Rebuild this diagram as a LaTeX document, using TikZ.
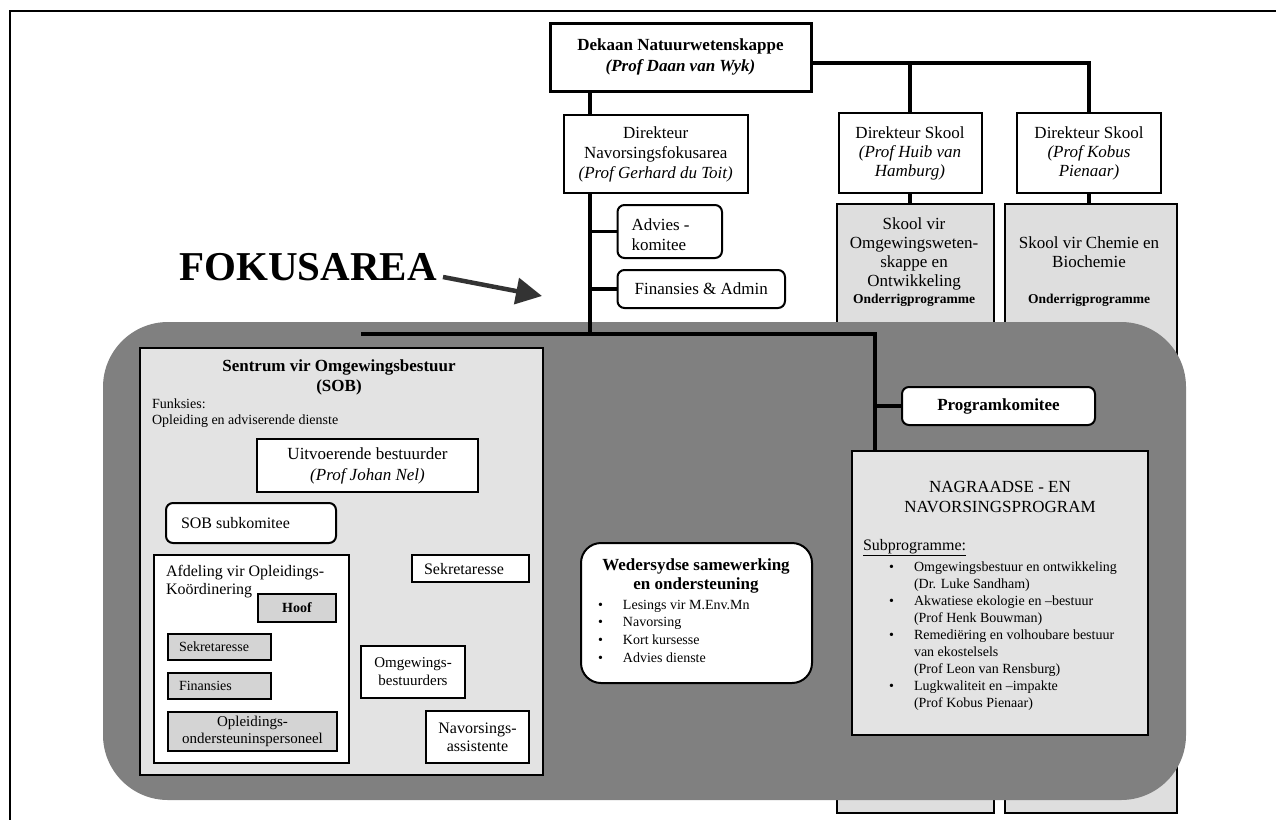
\documentclass[tikz,border=0pt]{standalone}
\usepackage{fontspec}
\setmainfont{Liberation Serif}
\usetikzlibrary{arrows.meta}
\newcommand{\fz}[2]{\fontsize{#1}{#2}\selectfont}
\newcommand{\bul}{\makebox[25pt][l]{•}}
\newcommand{\nob}{\hspace*{25pt}}
\definecolor{regiongray}{gray}{0.5}
\definecolor{lightdot}{gray}{0.89}
\definecolor{skoolgray}{gray}{0.87}
\definecolor{subgray}{gray}{0.83}
\begin{document}
\begin{tikzpicture}[x=1pt,y=-1pt,
  every node/.style={inner sep=0pt, outer sep=0pt},
  bx/.style={draw=black, line width=2pt, fill=white, align=center},
  rbx/.style={bx, rounded corners=7pt},
  sub/.style={draw=black, line width=1.5pt, fill=subgray},
  conn/.style={draw=black, line width=3.5pt},
  txt/.style={align=center, font=\fz{17}{20}},
]
\useasboundingbox (0,0) rectangle (1276,820);

% outer frame
\coordinate (ftl) at (10,11);
\coordinate (ftr) at (1276,11);
\coordinate (fbl) at (10,820);
\draw[line width=2pt] (ftr) -- (ftl) -- (fbl);

% school columns (behind the focus area)
\node[bx, fill=skoolgray, minimum width=157pt, minimum height=609pt] (sk1) at (915.5,508.5) {};
\node[bx, fill=skoolgray, minimum width=172pt, minimum height=609pt] (sk2) at (1090.5,508.5) {};
\node[txt, font=\fz{17}{19}] (sk1t) at (914,254) {Skool vir\\Omgewingsweten-\\skappe en\\Ontwikkeling};
\node[font=\bfseries\fz{13.5}{16}] (sk1o) at (914,300) {Onderrigprogramme};
\node[txt, font=\fz{17}{19}] (sk2t) at (1089,252.5) {Skool vir Chemie en\\Biochemie};
\node[font=\bfseries\fz{13.5}{16}] (sk2o) at (1089,300) {Onderrigprogramme};

% focus area background
\node[fill=regiongray, rounded corners=65pt, minimum width=1083pt, minimum height=478pt] (region) at (644.5,561) {};

% top boxes
\node[bx, line width=3pt, minimum width=261pt, minimum height=68pt, font=\bfseries\fz{17}{21}] (dek) at (680.5,57)
  {Dekaan Natuurwetenskappe\\\textit{(Prof Daan van Wyk)}};
\node[bx, minimum width=183.5pt, minimum height=78pt, font=\fz{17}{20}] (nfa) at (655.75,154)
  {Direkteur\\Navorsingsfokusarea\\\textit{(Prof Gerhard du Toit)}};
\node[bx, minimum width=143pt, minimum height=80pt, font=\fz{17}{19}] (ds1) at (910,153)
  {Direkteur Skool\\\textit{(Prof Huib van}\\\textit{Hamburg)}};
\node[bx, minimum width=144pt, minimum height=80pt, font=\fz{17}{19}] (ds2) at (1089,153)
  {Direkteur Skool\\\textit{(Prof Kobus}\\\textit{Pienaar)}};
\node[rbx, minimum width=104.5pt, minimum height=53pt] (adv) at (669.75,231.5) {};
\node[anchor=west, align=left, font=\fz{17}{20}] (advt) at (631.5,235) {Advies -\\komitee};
\node[rbx, minimum width=167.5pt, minimum height=38pt, font=\fz{17}{20}] (fin) at (701.25,289) {Finansies \& Admin};

% FOKUSAREA label and arrow
\node[font=\bfseries\fz{41}{41}] (fok) at (308,267) {FOKUSAREA};
\coordinate (arA) at (443,277);
\coordinate (arB) at (542,296);
\draw[line width=4.5pt, black!80, -{Triangle[length=26pt,width=26pt]}] (arA) -- (arB);

% connectors
\coordinate (spine) at (590,0);
\coordinate (hy) at ([yshift=-6pt]dek.east);
\coordinate (hl) at (361,334);
\coordinate (hr) at (875,334);
\draw[conn] (dek.south -| spine) -- (nfa.north -| spine);
\draw[conn] (hy) -| (ds2.north);
\draw[conn] (hy -| ds1.north) -- (ds1.north);
\draw[conn] (ds1.south) -- (ds1.south |- sk1.north);
\draw[conn] (ds2.south) -- (ds2.south |- sk2.north);
\draw[conn] (nfa.south -| spine) -- (spine |- hl);
\draw[conn] (spine |- adv.west) -- (adv.west);
\draw[conn] (spine |- fin.west) -- (fin.west);
\draw[conn] (hl) -- (hr) -- (hr |- 0,451);
\draw[conn] (hr |- 0,406) -- (902,406);

% Sentrum vir Omgewingsbestuur
\node[bx, fill=lightdot, minimum width=403pt, minimum height=427pt] (sob) at (341.5,561.5) {};
\node[txt, font=\bfseries\fz{17}{20}] (sobt) at (339,377) {Sentrum vir Omgewingsbestuur\\(SOB)};
\node[anchor=west, align=left, font=\fz{14}{15.5}] (funk) at (152,413) {Funksies:\\Opleiding en adviserende dienste};
\node[bx, minimum width=221pt, minimum height=53pt, font=\fz{17}{21}] (uit) at (367.5,465.5)
  {Uitvoerende bestuurder\\\textit{(Prof Johan Nel)}};
\node[rbx, minimum width=170pt, minimum height=40pt] (sobk) at (251,523) {};
\node[anchor=west, font=\fz{16}{18}] (sobkt) at (181,523) {SOB subkomitee};
\node[bx, minimum width=195.4pt, minimum height=208pt] (afd) at (251.3,659) {};
\node[anchor=west, align=left, font=\fz{16}{18}] (afdt) at (166,582) {Afdeling vir Opleidings-\\Koördinering};
\node[sub, minimum width=78pt, minimum height=28pt, font=\bfseries\fz{14}{16}] (hoof) at (297,608) {Hoof};
\node[sub, minimum width=103pt, minimum height=26pt] (sek1) at (219.5,647) {};
\node[anchor=west, font=\fz{14}{16}] (sek1t) at (179,647) {Sekretaresse};
\node[sub, minimum width=103pt, minimum height=26pt] (fin2) at (219.5,686) {};
\node[anchor=west, font=\fz{14}{16}] (fin2t) at (179,686) {Finansies};
\node[sub, minimum width=169pt, minimum height=39pt, align=center, font=\fz{15}{17}] (opl) at (252.5,731.5)
  {Opleidings-\\ondersteuninspersoneel};
\node[bx, line width=1.5pt, minimum width=117pt, minimum height=27pt] (sek2) at (470.5,568.5) {};
\node[anchor=west, font=\fz{16}{18}] (sek2t) at (424,569) {Sekretaresse};
\node[bx, line width=1.5pt, minimum width=104pt, minimum height=52pt, font=\fz{15}{18}] (omg) at (413,672)
  {Omgewings-\\bestuurders};
\node[bx, line width=1.5pt, minimum width=103pt, minimum height=52pt, font=\fz{16}{18}] (nav) at (477.5,737)
  {Navorsings-\\assistente};

% Wedersydse samewerking
\node[bx, rounded corners=20pt, minimum width=231pt, minimum height=140pt] (wed) at (696.5,613) {};
\node[txt, font=\bfseries\fz{17}{19}] (wedt) at (696,576) {Wedersydse samewerking\\en ondersteuning};
\node[anchor=west, align=left, font=\fz{14}{17.7}] (wedl) at (598,631)
  {\bul Lesings vir M.Env.Mn\\\bul Navorsing\\\bul Kort kursesse\\\bul Advies dienste};

% Programkomitee
\node[rbx, minimum width=193pt, minimum height=38pt, font=\bfseries\fz{17}{20}] (prog) at (998.5,406) {Programkomitee};

% Nagraadse- en navorsingsprogram
\node[bx, line width=2.5pt, fill=lightdot, minimum width=296pt, minimum height=284pt] (nag) at (1000,593) {};
\node[txt, font=\fz{17}{20}] (nagt) at (1000,497) {NAGRAADSE - EN\\NAVORSINGSPROGRAM};
\node[anchor=west, font=\fz{16}{18}] (subp) at (863,548) {\underline{Subprogramme:}};
\node[anchor=west, align=left, font=\fz{14}{17}] (nagl) at (889,636)
  {\bul Omgewingsbestuur en ontwikkeling\\\nob (Dr. Luke Sandham)\\
   \bul Akwatiese ekologie en –bestuur\\\nob (Prof Henk Bouwman)\\
   \bul Remediëring en volhoubare bestuur\\\nob van ekostelsels\\\nob (Prof Leon van Rensburg)\\
   \bul Lugkwaliteit en –impakte\\\nob (Prof Kobus Pienaar)};
\end{tikzpicture}
\end{document}
